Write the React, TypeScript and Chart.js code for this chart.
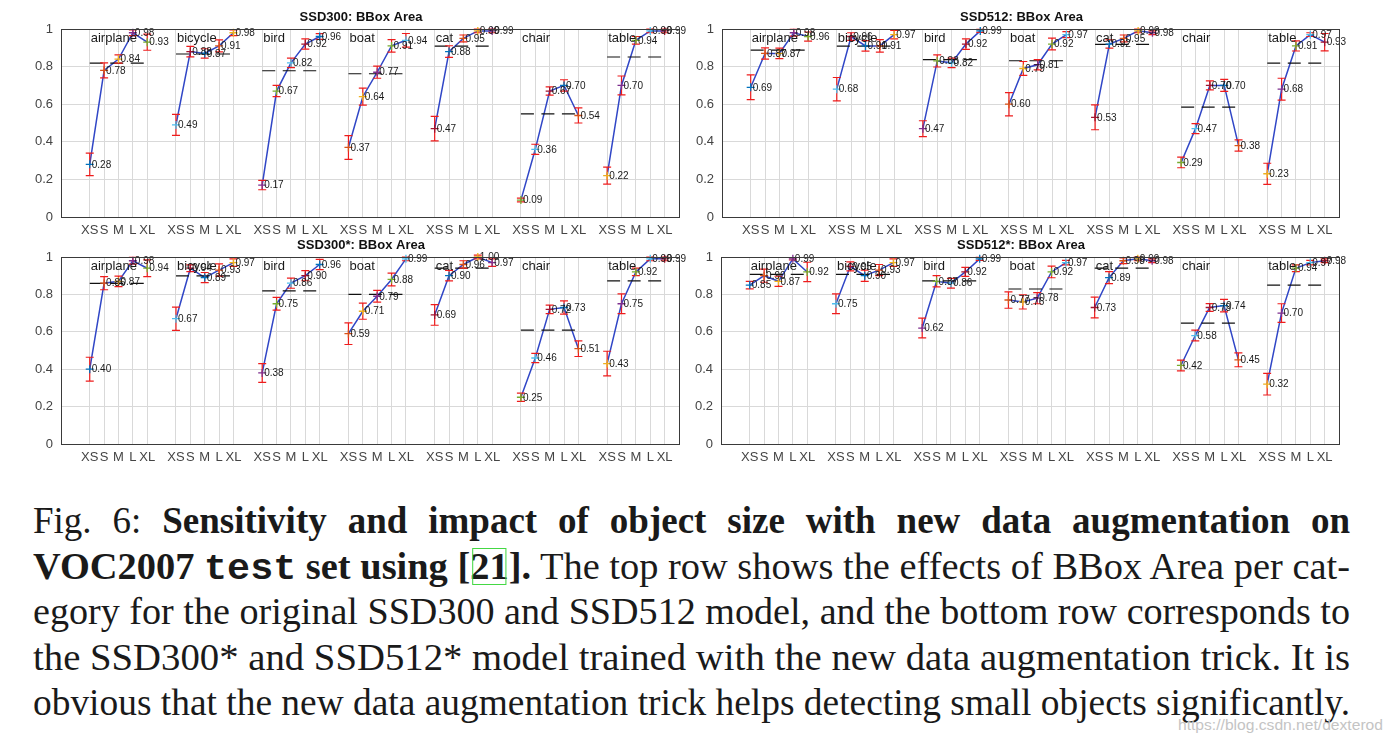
import React, { useEffect, useLayoutEffect, useRef } from 'react';
import { Chart, registerables } from 'chart.js';

Chart.register(...registerables);

// ---------------- data ----------------
const categories = ['airplane', 'bicycle', 'bird', 'boat', 'cat', 'chair', 'table'];
const sizeLabels = ['XS', 'S', 'M', 'L', 'XL'];
const yTickValues = [0, 0.2, 0.4, 0.6, 0.8, 1];

// SSD300
const ssd300Values = [
  [0.28, 0.78, 0.84, 0.98, 0.93],
  [0.49, 0.88, 0.87, 0.91, 0.98],
  [0.17, 0.67, 0.82, 0.92, 0.96],
  [0.37, 0.64, 0.77, 0.91, 0.94],
  [0.47, 0.88, 0.95, 0.99, 0.99],
  [0.09, 0.36, 0.67, 0.70, 0.54],
  [0.22, 0.70, 0.94, 0.99, 0.99],
];
const ssd300Errors = [
  [0.060, 0.040, 0.022, 0.015, 0.043],
  [0.056, 0.028, 0.025, 0.032, 0.015],
  [0.025, 0.030, 0.025, 0.027, 0.015],
  [0.063, 0.045, 0.032, 0.033, 0.036],
  [0.065, 0.031, 0.018, 0.010, 0.010],
  [0.010, 0.027, 0.022, 0.030, 0.040],
  [0.045, 0.050, 0.020, 0.010, 0.010],
];
const ssd300Means = [0.819, 0.867, 0.778, 0.762, 0.909, 0.549, 0.851];

// SSD512
const ssd512Values = [
  [0.69, 0.87, 0.87, 0.98, 0.96],
  [0.68, 0.96, 0.91, 0.91, 0.97],
  [0.47, 0.83, 0.82, 0.92, 0.99],
  [0.60, 0.79, 0.81, 0.92, 0.97],
  [0.53, 0.92, 0.95, 0.99, 0.98],
  [0.29, 0.47, 0.70, 0.70, 0.38],
  [0.23, 0.68, 0.91, 0.97, 0.93],
];
const ssd512Errors = [
  [0.066, 0.030, 0.028, 0.018, 0.024],
  [0.062, 0.020, 0.028, 0.033, 0.022],
  [0.042, 0.032, 0.025, 0.028, 0.008],
  [0.062, 0.037, 0.027, 0.031, 0.016],
  [0.066, 0.022, 0.018, 0.010, 0.010],
  [0.028, 0.027, 0.024, 0.032, 0.030],
  [0.056, 0.058, 0.027, 0.010, 0.046],
];
const ssd512Means = [0.888, 0.909, 0.837, 0.831, 0.918, 0.584, 0.819];

// SSD300*
const ssd300sValues = [
  [0.40, 0.86, 0.87, 0.98, 0.94],
  [0.67, 0.94, 0.89, 0.93, 0.97],
  [0.38, 0.75, 0.86, 0.90, 0.96],
  [0.59, 0.71, 0.79, 0.88, 0.99],
  [0.69, 0.90, 0.96, 1.00, 0.97],
  [0.25, 0.46, 0.72, 0.73, 0.51],
  [0.43, 0.75, 0.92, 0.99, 0.99],
];
const ssd300sErrors = [
  [0.064, 0.035, 0.028, 0.018, 0.045],
  [0.062, 0.018, 0.027, 0.033, 0.020],
  [0.050, 0.034, 0.027, 0.027, 0.027],
  [0.058, 0.043, 0.031, 0.034, 0.010],
  [0.055, 0.028, 0.020, 0.010, 0.020],
  [0.022, 0.025, 0.023, 0.035, 0.042],
  [0.066, 0.053, 0.020, 0.010, 0.010],
];
const ssd300sMeans = [0.859, 0.899, 0.819, 0.800, 0.940, 0.609, 0.872];

// SSD512*
const ssd512sValues = [
  [0.85, 0.90, 0.87, 0.99, 0.92],
  [0.75, 0.95, 0.90, 0.93, 0.97],
  [0.62, 0.87, 0.86, 0.92, 0.99],
  [0.77, 0.76, 0.78, 0.92, 0.97],
  [0.73, 0.89, 0.98, 0.99, 0.98],
  [0.42, 0.58, 0.73, 0.74, 0.45],
  [0.32, 0.70, 0.94, 0.97, 0.98],
];
const ssd512sErrors = [
  [0.020, 0.035, 0.027, 0.006, 0.052],
  [0.053, 0.024, 0.030, 0.030, 0.020],
  [0.053, 0.030, 0.026, 0.024, 0.008],
  [0.044, 0.038, 0.030, 0.031, 0.012],
  [0.055, 0.032, 0.015, 0.010, 0.010],
  [0.029, 0.029, 0.021, 0.033, 0.037],
  [0.058, 0.050, 0.018, 0.012, 0.010],
];
const ssd512sMeans = [0.907, 0.907, 0.872, 0.829, 0.940, 0.646, 0.850];

const panelTitles = ['SSD300: BBox Area', 'SSD512: BBox Area', 'SSD300*: BBox Area', 'SSD512*: BBox Area'];

// ---------------- styles ----------------
const markerColors = ['#0072BD', '#D95319', '#EDB120', '#7E2F8E', '#77AC30', '#4DBEEE', '#A2142F'];
const LINE_COLOR = '#3046c6';
const ERR_COLOR = '#ee1c1c';
const GRID_COLOR = '#d9d9d9';
const FRAME_COLOR = '#3a3a3a';
const TICK_COLOR = '#444444';
const SANS = '"Liberation Sans", Arial, sans-serif';

const xPos = (g: number, i: number) => 2 + 6 * g + i;
const allPositions: number[] = [];
categories.forEach((_, g) => sizeLabels.forEach((__, i) => allPositions.push(xPos(g, i))));

const decorPlugin = {
  id: 'decor',
  beforeDatasetDraw(chart: any, args: any) {
    const ds = chart.data.datasets[args.index];
    if (!ds.errors) return;
    const xs = chart.scales.x;
    const ys = chart.scales.y;
    const ctx = chart.ctx;
    ctx.save();
    ctx.strokeStyle = ERR_COLOR;
    ctx.lineWidth = 1.2;
    ds.data.forEach((pt: any, i: number) => {
      const e = ds.errors[i];
      const px = xs.getPixelForValue(pt.x);
      const y1 = ys.getPixelForValue(pt.y - e);
      const y2 = ys.getPixelForValue(pt.y + e);
      ctx.beginPath();
      ctx.moveTo(px, y1);
      ctx.lineTo(px, y2);
      ctx.moveTo(px - 4, y1);
      ctx.lineTo(px + 4, y1);
      ctx.moveTo(px - 4, y2);
      ctx.lineTo(px + 4, y2);
      ctx.stroke();
    });
    ctx.restore();
  },
  afterDatasetsDraw(chart: any) {
    const xs = chart.scales.x;
    const ys = chart.scales.y;
    const ctx = chart.ctx;
    ctx.save();
    ctx.fillStyle = '#1a1a1a';
    ctx.textBaseline = 'middle';
    ctx.textAlign = 'left';
    ctx.font = `10px ${SANS}`;
    chart.data.datasets.forEach((ds: any) => {
      if (!ds.errors) return;
      ds.data.forEach((pt: any) => {
        ctx.fillText(pt.y.toFixed(2), xs.getPixelForValue(pt.x) + 2, ys.getPixelForValue(pt.y) + 0.5);
      });
    });
    ctx.font = `13px ${SANS}`;
    categories.forEach((c, g) => {
      ctx.fillText(c, xs.getPixelForValue(xPos(g, 0)) + 1, ys.getPixelForValue(0.95));
    });
    ctx.restore();
  },
  afterDraw(chart: any, _args: any, opts: any) {
    const { left, right, top, bottom } = chart.chartArea;
    const ctx = chart.ctx;
    ctx.save();
    ctx.strokeStyle = FRAME_COLOR;
    ctx.lineWidth = 1;
    ctx.strokeRect(Math.round(left) + 0.5, Math.round(top) + 0.5, Math.round(right - left), Math.round(bottom - top));
    ctx.fillStyle = '#111';
    ctx.font = `bold 13px ${SANS}`;
    ctx.textAlign = 'center';
    ctx.textBaseline = 'middle';
    ctx.fillText(opts.title, (left + right) / 2 - 9, top - 11.5);
    ctx.restore();
  },
};

type PanelSpec = {
  left: number; top: number; width: number; height: number;
  plotLeft: number; plotRight: number; plotTop: number; plotBottom: number;
  title: string; values: number[][]; errors: number[][]; means: number[];
};

function Panel(p: PanelSpec) {
  const ref = useRef<HTMLCanvasElement>(null);
  useEffect(() => {
    const canvas = ref.current;
    if (!canvas) return;
    const yAxisWidth = p.plotLeft - p.left;
    const padRight = p.left + p.width - p.plotRight;
    const padTop = p.plotTop - p.top;
    const xAxisHeight = p.top + p.height - p.plotBottom;
    const datasets: any[] = [];
    categories.forEach((cat, g) => {
      const pts = p.values[g].map((v, i) => ({ x: xPos(g, i), y: v }));
      datasets.push({
        type: 'line', label: cat, data: pts, borderColor: LINE_COLOR, borderWidth: 1.5,
        pointRadius: 0, fill: false, tension: 0, order: 3, clip: false,
      });
      datasets.push({
        type: 'line', label: cat + ' overall',
        data: [{ x: xPos(g, 0), y: p.means[g] }, { x: xPos(g, 4), y: p.means[g] }],
        borderColor: '#111', borderWidth: 1.2, borderDash: [13, 7.5],
        pointRadius: 0, fill: false, order: 2, clip: false,
      });
      datasets.push({
        type: 'scatter', label: cat + ' points', data: pts, errors: p.errors[g],
        pointStyle: 'cross', pointRadius: 4, pointHoverRadius: 4,
        pointBorderColor: pts.map((_, i) => markerColors[(g * 5 + i) % 7]),
        pointBackgroundColor: pts.map((_, i) => markerColors[(g * 5 + i) % 7]),
        pointBorderWidth: 1.3, showLine: false, order: 1, clip: false,
      });
    });
    const chart = new Chart(canvas, {
      type: 'line',
      data: { datasets },
      plugins: [decorPlugin],
      options: {
        responsive: false,
        animation: false,
        events: [],
        layout: { padding: { left: 0, right: padRight, top: padTop, bottom: 0 } },
        plugins: {
          legend: { display: false },
          tooltip: { enabled: false },
          title: { display: false },
          decor: { title: p.title },
        } as any,
        scales: {
          x: {
            type: 'linear', min: 0, max: 43,
            afterBuildTicks: (s: any) => { s.ticks = allPositions.map((v) => ({ value: v })); },
            afterFit: (s: any) => { s.height = xAxisHeight; },
            ticks: {
              autoSkip: false, maxRotation: 0, minRotation: 0, padding: 6, color: TICK_COLOR,
              font: { family: SANS, size: 13 },
              callback: (v: any) => sizeLabels[(Math.round(Number(v)) - 2) % 6],
            },
            grid: { color: GRID_COLOR, drawTicks: false, lineWidth: 1 },
            border: { display: true, color: FRAME_COLOR, width: 1 },
          },
          y: {
            type: 'linear', min: 0, max: 1,
            afterBuildTicks: (s: any) => { s.ticks = yTickValues.map((v) => ({ value: v })); },
            afterFit: (s: any) => { s.width = yAxisWidth; },
            ticks: {
              padding: 8, color: TICK_COLOR, font: { family: SANS, size: 13 },
              callback: (v: any) => {
                const n = Number(v);
                return n === 0 ? '0' : n === 1 ? '1' : n.toFixed(1);
              },
            },
            grid: { color: GRID_COLOR, drawTicks: false, lineWidth: 1 },
            border: { display: true, color: FRAME_COLOR, width: 1 },
          },
        } as any,
      },
    } as any);
    return () => chart.destroy();
  }, []);
  return (
    <canvas
      ref={ref}
      width={p.width}
      height={p.height}
      style={{ position: 'absolute', left: p.left, top: p.top, width: p.width, height: p.height }}
    />
  );
}

function FitLine(props: { left: number; top: number; target: number; base?: number; style?: any; children: any }) {
  const ref = useRef<HTMLDivElement>(null);
  useLayoutEffect(() => {
    const el = ref.current;
    if (!el) return;
    const base = props.base ?? 1;
    el.style.wordSpacing = '0px';
    el.style.transform = 'none';
    const w = el.getBoundingClientRect().width;
    const spaces = ((el.textContent || '').match(/ /g) || []).length;
    if (w * base < props.target && spaces > 0) {
      el.style.wordSpacing = (props.target / base - w) / spaces + 'px';
      el.style.transform = `scaleX(${base})`;
    } else {
      el.style.transform = `scaleX(${props.target / w})`;
    }
  });
  return (
    <div
      ref={ref}
      style={{
        position: 'absolute', left: props.left, top: props.top, whiteSpace: 'pre',
        display: 'inline-block', transformOrigin: '0 0', ...props.style,
      }}
    >
      {props.children}
    </div>
  );
}

const captionStyle = {
  fontFamily: '"Liberation Serif", "Times New Roman", Times, serif',
  fontSize: 37,
  lineHeight: '37px',
  color: '#1a1a1a',
};

export default function App() {
  const specs: PanelSpec[] = [
    { left: 0, top: 0, width: 690, height: 240, plotLeft: 61, plotRight: 679, plotTop: 29, plotBottom: 217,
      title: panelTitles[0], values: ssd300Values, errors: ssd300Errors, means: ssd300Means },
    { left: 690, top: 0, width: 698, height: 240, plotLeft: 722, plotRight: 1339, plotTop: 29, plotBottom: 217,
      title: panelTitles[1], values: ssd512Values, errors: ssd512Errors, means: ssd512Means },
    { left: 0, top: 240, width: 690, height: 230, plotLeft: 61, plotRight: 679, plotTop: 257, plotBottom: 444,
      title: panelTitles[2], values: ssd300sValues, errors: ssd300sErrors, means: ssd300sMeans },
    { left: 690, top: 240, width: 698, height: 230, plotLeft: 721, plotRight: 1339, plotTop: 257, plotBottom: 444,
      title: panelTitles[3], values: ssd512sValues, errors: ssd512sErrors, means: ssd512sMeans },
  ];
  const baselines = [533, 578.5, 624, 669.5, 715];
  const lineTop = (i: number) => baselines[i] - 31;
  const W = 1317;
  return (
    <div style={{ position: 'absolute', left: 0, top: 0, width: 1388, height: 742, background: '#fff', overflow: 'hidden' }}>
      {specs.map((s, i) => <Panel key={i} {...s} />)}
      <FitLine left={33} top={lineTop(0)} target={W} base={1.0} style={captionStyle}>
        Fig. 6: <b>Sensitivity and impact of object size with new data augmentation on</b>
      </FitLine>
      <FitLine left={33} top={lineTop(1)} target={W} base={1.08} style={captionStyle}>
        <b>VOC2007 <span style={{ fontFamily: '"Liberation Mono", "Courier New", monospace' }}>test</span> set using [<span style={{ outline: '1px solid #44d844', outlineOffset: '-3px' }}>21</span>].</b> The top row shows the effects of BBox Area per cat-
      </FitLine>
      <FitLine left={33} top={lineTop(2)} target={W} base={1.3} style={captionStyle}>
        egory for the original SSD300 and SSD512 model, and the bottom row corresponds to
      </FitLine>
      <FitLine left={33} top={lineTop(3)} target={W} base={1.3} style={captionStyle}>
        the SSD300* and SSD512* model trained with the new data augmentation trick. It is
      </FitLine>
      <FitLine left={33} top={lineTop(4)} target={W} base={1.3} style={captionStyle}>
        obvious that the new data augmentation trick helps detecting small objects significantly.
      </FitLine>
      <FitLine left={1178} top={718} target={205} style={{ fontFamily: SANS, fontSize: 14, lineHeight: '14px', color: '#c4c4c4' }}>
        https://blog.csdn.net/dexterod
      </FitLine>
    </div>
  );
}
